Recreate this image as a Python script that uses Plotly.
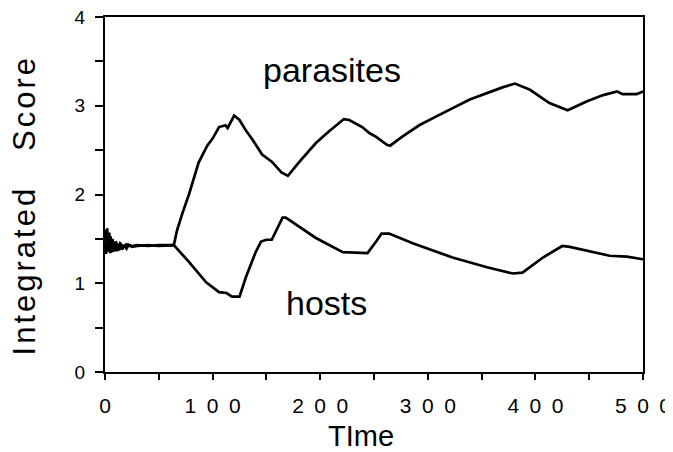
import plotly.graph_objects as go

# ---- data ----
par_t = [0, 1, 2, 3, 4, 5, 6, 7, 8, 10, 12, 14, 17, 20, 25, 30, 40, 50, 64,
         67, 72, 78, 87, 95, 100, 106, 112, 114, 120, 125, 131, 137, 146, 155,
         164, 170, 180, 196, 208, 222, 227, 239, 246, 252, 262, 265, 276, 292,
         308, 339, 370, 381, 395, 413, 430, 448, 463, 476, 481, 494, 500]
par_v = [1.50, 1.60, 1.38, 1.56, 1.35, 1.53, 1.40, 1.50, 1.37, 1.47, 1.40, 1.45,
         1.41, 1.44, 1.42, 1.43, 1.42, 1.43, 1.43,
         1.60, 1.79, 2.00, 2.36, 2.55, 2.63, 2.76, 2.78, 2.75, 2.89, 2.84, 2.72,
         2.62, 2.45, 2.37, 2.25, 2.21, 2.36, 2.58, 2.71, 2.85, 2.84, 2.76, 2.69,
         2.65, 2.56, 2.55, 2.65, 2.78, 2.88, 3.07, 3.21, 3.25, 3.18, 3.03, 2.95,
         3.05, 3.12, 3.16, 3.13, 3.13, 3.16]

host_t = [0, 1, 2, 3, 4, 5, 6, 7, 8, 9, 10, 11, 12, 13, 14, 16, 18, 20, 22, 25,
          30, 40, 50, 64,
          78, 94, 106, 113, 118, 125, 131, 140, 145, 150, 155, 160, 165, 168,
          196, 221, 244, 252, 257, 264, 286, 323, 355, 379, 388, 407, 425, 432,
          448, 469, 485, 500]
host_v = [1.45, 1.33, 1.62, 1.36, 1.57, 1.34, 1.50, 1.35, 1.46, 1.36, 1.44, 1.36,
          1.43, 1.37, 1.43, 1.38, 1.43, 1.39, 1.43, 1.41,
          1.42, 1.43, 1.42, 1.43,
          1.24, 1.01, 0.90, 0.89, 0.85, 0.85, 1.07, 1.35, 1.47, 1.49, 1.49, 1.62,
          1.74, 1.74, 1.51, 1.35, 1.34, 1.47, 1.56, 1.56, 1.45, 1.29, 1.18, 1.11,
          1.12, 1.29, 1.42, 1.41, 1.37, 1.31, 1.30, 1.27]

x_tickvals = [0, 50, 100, 150, 200, 250, 300, 350, 400, 450, 500]
x_ticktext = ["0", "", "1\u20020\u20020", "", "2\u20020\u20020", "",
              "3\u20020\u20020", "", "4\u20020\u20020", "", "5\u20020\u20020"]
y_tickvals = [0, 0.5, 1, 1.5, 2, 2.5, 3, 3.5, 4]
y_ticktext = ["0", "", "1", "", "2", "", "3", "", "4"]

FONT = "Liberation Sans, Arial, sans-serif"

fig = go.Figure()
fig.add_trace(go.Scatter(x=par_t, y=par_v, mode="lines", name="parasites",
                         line=dict(color="black", width=2.7)))
fig.add_trace(go.Scatter(x=host_t, y=host_v, mode="lines", name="hosts",
                         line=dict(color="black", width=2.7)))

fig.add_annotation(x=211, y=3.40, text="parasites", showarrow=False,
                   xref="x", yref="y", font=dict(family=FONT, size=34, color="black"))
fig.add_annotation(x=206, y=0.78, text="hosts", showarrow=False,
                   xref="x", yref="y", font=dict(family=FONT, size=34, color="black"))

# axis titles
fig.add_annotation(x=0.476, y=-0.18, xref="paper", yref="paper", text="TIme",
                   showarrow=False, xanchor="center", yanchor="middle",
                   font=dict(family=FONT, size=29, color="black"))
fig.add_annotation(x=-0.15, y=0.47, xref="paper", yref="paper",
                   text="<span style='letter-spacing:3px'>Integrated\u00a0\u00a0\u00a0Score</span>",
                   textangle=-90,
                   showarrow=False, xanchor="center", yanchor="middle",
                   font=dict(family=FONT, size=31, color="black"))

fig.update_layout(
    width=665, height=444,
    margin=dict(l=97, r=30, t=9, b=80),
    paper_bgcolor="white", plot_bgcolor="white",
    showlegend=False,
    font=dict(family=FONT, color="black"),
)
fig.update_xaxes(
    range=[0, 500], tickmode="array", tickvals=x_tickvals, ticktext=x_ticktext,
    ticks="outside", ticklen=6, tickwidth=2, tickcolor="black",
    showline=True, linecolor="black", linewidth=2, mirror=True,
    showgrid=False, zeroline=False, automargin=False,
    tickfont=dict(family=FONT, size=21, color="black"),
    ticklabelstandoff=8, ticklabeloverflow="allow",
)
fig.update_yaxes(
    range=[0, 4], tickmode="array", tickvals=y_tickvals, ticktext=y_ticktext,
    ticks="outside", ticklen=8, tickwidth=2, tickcolor="black",
    showline=True, linecolor="black", linewidth=2, mirror=True,
    showgrid=False, zeroline=False, automargin=False,
    tickfont=dict(family=FONT, size=19, color="black"),
    ticklabelstandoff=6, ticklabeloverflow="allow",
)

fig.write_html("out.html")
